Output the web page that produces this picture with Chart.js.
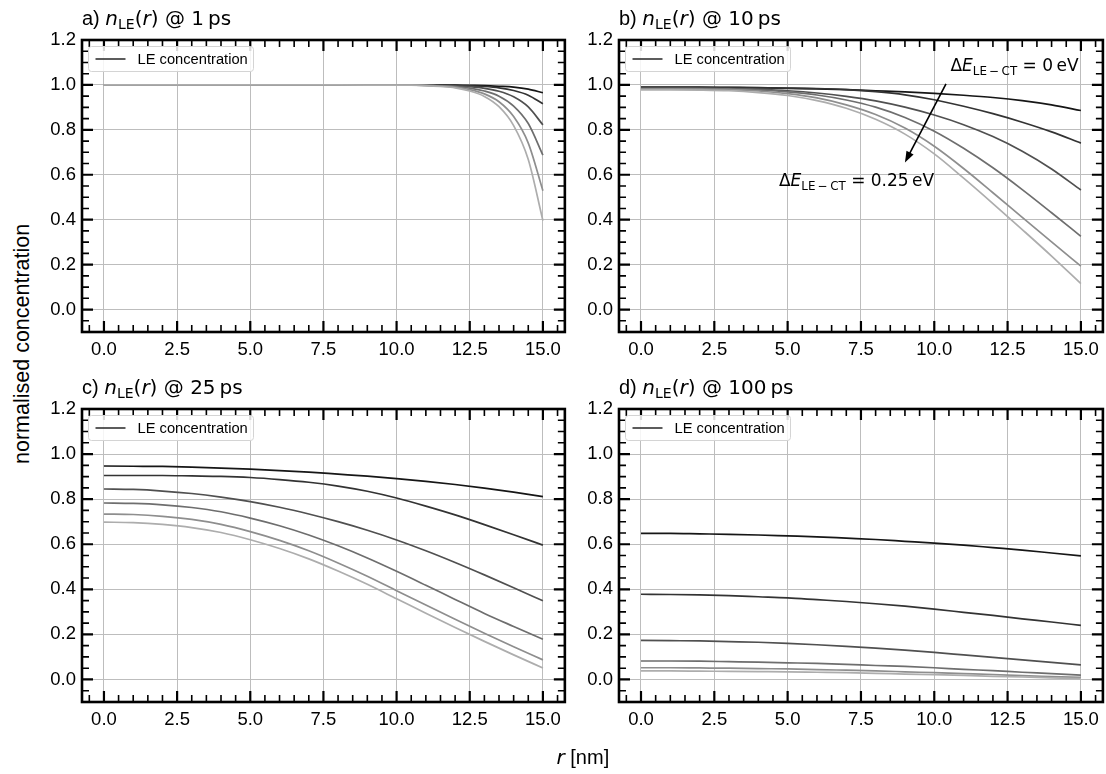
<!DOCTYPE html>
<html>
<head>
<meta charset="utf-8">
<script src="https://cdn.jsdelivr.net/npm/chart.js@4.4.1/dist/chart.umd.min.js"></script>
<style>
  body { margin: 0; width: 1106px; height: 774px; background: #fff; position: relative; overflow: hidden;
         font-family: "Liberation Sans", Arial, sans-serif; color: #000; }
  canvas { position: absolute; }
  .ttl { position: absolute; font-size: 20px; white-space: nowrap; line-height: 1; }
  .m { font-family: "DejaVu Sans"; }
  .m i { font-style: italic; }
  .m sub { font-size: 0.7em; vertical-align: -0.28em; line-height: 0; }
  #ylab { position: absolute; font-size: 21.5px; white-space: nowrap; transform-origin: 0 0; }
  #xlab { position: absolute; font-size: 20px; white-space: nowrap; }
</style>
</head>
<body>
<canvas id="pa"></canvas>
<canvas id="pb"></canvas>
<canvas id="pc"></canvas>
<canvas id="pd"></canvas>

<div class="ttl" style="left:82px;top:8px">a) <span class="m"><i>n</i><sub>LE</sub>(<i>r</i>) @ 1&#8201;ps</span></div>
<div class="ttl" style="left:619px;top:8px">b) <span class="m"><i>n</i><sub>LE</sub>(<i>r</i>) @ 10&#8201;ps</span></div>
<div class="ttl" style="left:82px;top:377px">c) <span class="m"><i>n</i><sub>LE</sub>(<i>r</i>) @ 25&#8201;ps</span></div>
<div class="ttl" style="left:619px;top:377px">d) <span class="m"><i>n</i><sub>LE</sub>(<i>r</i>) @ 100&#8201;ps</span></div>
<div id="ylab">normalised concentration</div>
<div id="xlab"><span class="m"><i>r</i></span> [nm]</div>

<script>
// radial positions (nm): finer near the edge for the 1 ps panel
const radiusEdge = [0, 2, 4, 6, 8, 10, 10.5, 11, 11.5, 12, 12.5, 13, 13.5, 14, 14.5, 15];
const radius = [0, 1, 2, 3, 4, 5, 6, 7, 8, 9, 10, 11, 12, 13, 14, 15];

// one row per energy offset, 0 eV (darkest) -> 0.25 eV (lightest)
const conc1ps = [
  [1, 1, 1, 1, 1, 1, 1, 1, 1, 0.999, 0.998, 0.997, 0.994, 0.990, 0.981, 0.965],
  [1, 1, 1, 1, 1, 1, 1, 1, 0.999, 0.998, 0.996, 0.993, 0.987, 0.975, 0.954, 0.916],
  [1, 1, 1, 1, 1, 1, 1, 0.999, 0.998, 0.996, 0.992, 0.985, 0.972, 0.947, 0.902, 0.822],
  [1, 1, 1, 1, 1, 1, 0.999, 0.998, 0.996, 0.993, 0.986, 0.973, 0.950, 0.906, 0.828, 0.687],
  [1, 1, 1, 1, 1, 1, 0.999, 0.998, 0.995, 0.990, 0.979, 0.960, 0.925, 0.859, 0.741, 0.529],
  [1, 1, 1, 1, 1, 0.999, 0.999, 0.997, 0.993, 0.987, 0.973, 0.949, 0.903, 0.819, 0.668, 0.396]
];
const conc10ps = [
  [0.990, 0.990, 0.990, 0.989, 0.988, 0.985, 0.982, 0.979, 0.974, 0.969, 0.962, 0.954, 0.944, 0.930, 0.911, 0.886],
  [0.988, 0.988, 0.988, 0.988, 0.987, 0.986, 0.984, 0.979, 0.970, 0.956, 0.934, 0.905, 0.872, 0.834, 0.791, 0.741],
  [0.986, 0.986, 0.985, 0.984, 0.980, 0.974, 0.964, 0.949, 0.929, 0.901, 0.866, 0.823, 0.770, 0.705, 0.626, 0.532],
  [0.984, 0.984, 0.984, 0.982, 0.978, 0.969, 0.955, 0.933, 0.901, 0.855, 0.794, 0.718, 0.631, 0.534, 0.431, 0.326],
  [0.982, 0.982, 0.981, 0.979, 0.973, 0.961, 0.942, 0.911, 0.868, 0.808, 0.727, 0.628, 0.520, 0.410, 0.301, 0.193],
  [0.978, 0.978, 0.977, 0.974, 0.966, 0.953, 0.930, 0.896, 0.847, 0.781, 0.693, 0.585, 0.472, 0.356, 0.238, 0.115]
];
const conc25ps = [
  [0.947, 0.946, 0.945, 0.942, 0.938, 0.933, 0.927, 0.920, 0.911, 0.902, 0.891, 0.879, 0.865, 0.849, 0.831, 0.811],
  [0.905, 0.905, 0.905, 0.903, 0.901, 0.896, 0.887, 0.875, 0.858, 0.835, 0.805, 0.769, 0.730, 0.687, 0.642, 0.596],
  [0.845, 0.843, 0.836, 0.825, 0.809, 0.789, 0.764, 0.734, 0.700, 0.662, 0.619, 0.571, 0.519, 0.464, 0.407, 0.349],
  [0.783, 0.781, 0.775, 0.763, 0.744, 0.716, 0.682, 0.641, 0.593, 0.539, 0.480, 0.418, 0.355, 0.293, 0.235, 0.178],
  [0.734, 0.732, 0.724, 0.710, 0.688, 0.656, 0.617, 0.571, 0.517, 0.458, 0.394, 0.330, 0.267, 0.205, 0.145, 0.087],
  [0.698, 0.696, 0.688, 0.674, 0.652, 0.620, 0.581, 0.535, 0.481, 0.422, 0.358, 0.294, 0.231, 0.169, 0.109, 0.051]
];
const conc100ps = [
  [0.648, 0.648, 0.646, 0.644, 0.641, 0.637, 0.633, 0.627, 0.621, 0.613, 0.605, 0.596, 0.585, 0.574, 0.561, 0.548],
  [0.378, 0.377, 0.375, 0.372, 0.367, 0.362, 0.354, 0.346, 0.336, 0.325, 0.312, 0.298, 0.284, 0.269, 0.255, 0.240],
  [0.173, 0.172, 0.171, 0.168, 0.165, 0.160, 0.154, 0.147, 0.139, 0.130, 0.120, 0.109, 0.098, 0.087, 0.076, 0.065],
  [0.082, 0.082, 0.081, 0.079, 0.077, 0.074, 0.071, 0.067, 0.062, 0.058, 0.052, 0.045, 0.039, 0.032, 0.026, 0.019],
  [0.052, 0.052, 0.051, 0.050, 0.048, 0.047, 0.044, 0.041, 0.038, 0.034, 0.030, 0.026, 0.022, 0.017, 0.013, 0.009],
  [0.038, 0.038, 0.037, 0.036, 0.035, 0.034, 0.032, 0.030, 0.027, 0.024, 0.021, 0.018, 0.014, 0.011, 0.007, 0.004]
];

const xTicks = [0, 2.5, 5, 7.5, 10, 12.5, 15];
const yTicks = [0, 0.2, 0.4, 0.6, 0.8, 1.0, 1.2];
const legendLabel = "LE concentration";
const greys = ["#161616", "#333333", "#505050", "#6e6e6e", "#8e8e8e", "#adadad"];

const FONT = '"Liberation Sans", Arial, sans-serif';

// inward ticks on all four sides + thick frame, matplotlib style
const frameTicks = {
  id: "frameTicks",
  afterDraw(chart) {
    const { ctx, chartArea: a, scales: { x, y } } = chart;
    ctx.save();
    ctx.strokeStyle = "#000";
    ctx.lineCap = "butt";
    const tick = (px, len, w, horiz) => {
      ctx.lineWidth = w;
      ctx.beginPath();
      if (horiz) {
        ctx.moveTo(px, a.bottom); ctx.lineTo(px, a.bottom - len);
        ctx.moveTo(px, a.top); ctx.lineTo(px, a.top + len);
      } else {
        ctx.moveTo(a.left, px); ctx.lineTo(a.left + len, px);
        ctx.moveTo(a.right, px); ctx.lineTo(a.right - len, px);
      }
      ctx.stroke();
    };
    for (let i = -1; i <= 31; i++) {
      const v = i * 0.5;
      if (v < x.min || v > x.max) continue;
      const major = i % 5 === 0;
      tick(x.getPixelForValue(v), major ? 11 : 7, major ? 2.2 : 1.6, true);
    }
    for (let i = -2; i <= 24; i++) {
      const v = i * 0.05;
      if (v < y.min - 1e-9 || v > y.max + 1e-9) continue;
      const major = i % 4 === 0;
      tick(y.getPixelForValue(v), major ? 11 : 7, major ? 2.2 : 1.6, false);
    }
    ctx.lineWidth = 2.6;
    ctx.strokeRect(a.left, a.top, a.right - a.left, a.bottom - a.top);

    // legend box in the upper left corner
    const bx = a.left + 6.5, by = a.top + 6.5, bw = 165, bh = 25;
    ctx.fillStyle = "rgba(255,255,255,0.85)";
    ctx.strokeStyle = "#d4d4d4";
    ctx.lineWidth = 1;
    ctx.beginPath();
    ctx.roundRect(bx, by, bw, bh, 3);
    ctx.fill();
    ctx.stroke();
    ctx.strokeStyle = "#333";
    ctx.lineWidth = 1.6;
    ctx.beginPath();
    ctx.moveTo(bx + 7, by + 12.5);
    ctx.lineTo(bx + 37, by + 12.5);
    ctx.stroke();
    ctx.fillStyle = "#000";
    ctx.font = "14.7px " + FONT;
    ctx.textBaseline = "middle";
    ctx.fillText(legendLabel, bx + 49, by + 13);
    ctx.restore();
  }
};

// mathtext-like label: Δ E_{LE-CT} = value
function drawDelta(ctx, x, y, value, align) {
  const size = 17;
  const parts = [
    ["Δ", `${size}px "DejaVu Sans"`, 0],
    ["E", `italic ${size}px "DejaVu Sans"`, 0],
    ["LE\u2009\u2212\u2009CT", `${size * 0.7}px "DejaVu Sans"`, size * 0.22],
    [" = " + value + "\u2009eV", `${size}px "DejaVu Sans"`, 0]
  ];
  let w = 0;
  for (const p of parts) { ctx.font = p[1]; w += ctx.measureText(p[0]).width; }
  let cx = align === "center" ? x - w / 2 : x;
  ctx.textBaseline = "alphabetic";
  ctx.fillStyle = "#000";
  for (const p of parts) {
    ctx.font = p[1];
    ctx.fillText(p[0], cx, y + p[2]);
    cx += ctx.measureText(p[0]).width;
  }
}

const annotate = {
  id: "annotate",
  afterDraw(chart) {
    if (!chart.options.plugins.annotate.on) return;
    const { ctx, scales: { x, y } } = chart;
    ctx.save();
    drawDelta(ctx, x.getPixelForValue(10.55), y.getPixelForValue(1.06), "0", "start");
    drawDelta(ctx, x.getPixelForValue(7.35), y.getPixelForValue(0.55), "0.25", "center");
    const x0 = x.getPixelForValue(10.4), y0 = y.getPixelForValue(1.005);
    const x1 = x.getPixelForValue(9.0), y1 = y.getPixelForValue(0.655);
    const ang = Math.atan2(y1 - y0, x1 - x0);
    ctx.strokeStyle = "#000";
    ctx.fillStyle = "#000";
    ctx.lineWidth = 1.6;
    ctx.beginPath();
    ctx.moveTo(x0, y0);
    ctx.lineTo(x1 - 8 * Math.cos(ang), y1 - 8 * Math.sin(ang));
    ctx.stroke();
    ctx.beginPath();
    ctx.moveTo(x1, y1);
    ctx.lineTo(x1 - 11 * Math.cos(ang) + 4 * Math.sin(ang), y1 - 11 * Math.sin(ang) - 4 * Math.cos(ang));
    ctx.lineTo(x1 - 11 * Math.cos(ang) - 4 * Math.sin(ang), y1 - 11 * Math.sin(ang) + 4 * Math.cos(ang));
    ctx.closePath();
    ctx.fill();
    ctx.restore();
  }
};

// area = chart area of the panel in page pixels
function makePanel(id, xs, rows, area, withArrow) {
  const padL = 44, padT = 22, padB = 44, padR = 2;
  const cv = document.getElementById(id);
  cv.width = area.right - area.left + padL + padR;
  cv.height = area.bottom - area.top + padT + padB;
  cv.style.left = (area.left - padL) + "px";
  cv.style.top = (area.top - padT) + "px";

  new Chart(cv, {
    type: "line",
    data: {
      datasets: rows.map((vals, i) => ({
        label: legendLabel,
        data: xs.map((r, k) => ({ x: r, y: vals[k] })),
        borderColor: greys[i],
        borderWidth: 1.7,
        pointRadius: 0,
        fill: false,
        order: rows.length - i,   // lighter curves on top, as plotted last
        cubicInterpolationMode: "monotone"
      }))
    },
    options: {
      responsive: false,
      animation: false,
      devicePixelRatio: 1,
      layout: { padding: { left: 0, top: padT, right: padR, bottom: padB - 32 } },
      plugins: { legend: { display: false }, tooltip: { enabled: false }, annotate: { on: withArrow } },
      scales: {
        x: {
          type: "linear", min: -0.75, max: 15.75,
          afterBuildTicks: s => { s.ticks = xTicks.map(v => ({ value: v })); },
          afterFit: s => { s.height = 32; },
          grid: { color: "#bdbdbd", lineWidth: 1, drawTicks: false },
          border: { display: false },
          ticks: { color: "#000", padding: 7, maxRotation: 0, font: { family: FONT, size: 18.5 },
                   callback: v => Number(v).toFixed(1) }
        },
        y: {
          type: "linear", min: -0.1, max: 1.2,
          afterBuildTicks: s => { s.ticks = yTicks.map(v => ({ value: v })); },
          afterFit: s => { s.width = padL; },
          grid: { color: "#bdbdbd", lineWidth: 1, drawTicks: false },
          border: { display: false },
          ticks: { color: "#000", padding: 6, font: { family: FONT, size: 18.5 },
                   callback: v => Number(v).toFixed(1) }
        }
      }
    },
    plugins: [frameTicks, annotate]
  });
}

makePanel("pa", radiusEdge, conc1ps, { left: 82,  right: 566,  top: 40,  bottom: 332 }, false);
makePanel("pb", radius, conc10ps,    { left: 619, right: 1104, top: 40,  bottom: 332 }, true);
makePanel("pc", radius, conc25ps,    { left: 82,  right: 566,  top: 409, bottom: 702 }, false);
makePanel("pd", radius, conc100ps,   { left: 619, right: 1104, top: 409, bottom: 702 }, false);

// shared axis labels
const ylab = document.getElementById("ylab");
const yw = ylab.offsetWidth, yh = ylab.offsetHeight;
ylab.style.left = (22 - yh / 2) + "px";
ylab.style.top = (344 + yw / 2) + "px";
ylab.style.transform = "rotate(-90deg)";
const xlab = document.getElementById("xlab");
xlab.style.left = (583 - xlab.offsetWidth / 2) + "px";
xlab.style.top = (757 - xlab.offsetHeight / 2) + "px";
</script>
</body>
</html>
